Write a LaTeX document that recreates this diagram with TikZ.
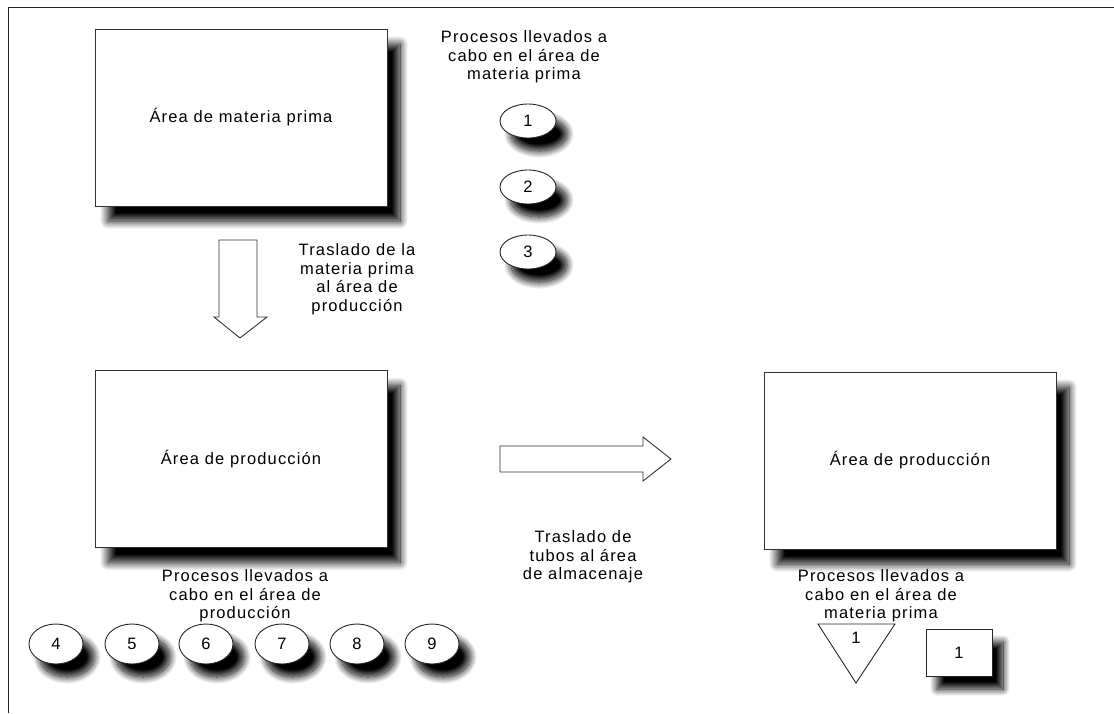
\documentclass[tikz,border=0pt]{standalone}
\usepackage{fontspec}
\setmainfont[LetterSpace=7]{Liberation Sans}
\usepackage{tikz}
\usetikzlibrary{shapes.geometric,shadows.blur}

\begin{document}
\begin{tikzpicture}[x=1pt, y=-1pt,
    area/.style={rectangle, draw=black!80, line width=0.9pt, fill=white, minimum width=292pt, minimum height=177pt, inner sep=0pt, font=\fontsize{16.5}{18.5}\selectfont,
        blur shadow={shadow xshift=13pt, shadow yshift=-15pt, shadow blur radius=8pt, shadow blur steps=20, shadow opacity=100}},
    proc/.style={ellipse, draw=black!85, line width=0.9pt, fill=white, minimum width=56pt, minimum height=34pt, inner sep=0pt, font=\fontsize{16.5}{18.5}\selectfont,
        blur shadow={shadow xshift=11pt, shadow yshift=-13pt, shadow blur radius=7pt, shadow blur steps=20, shadow opacity=100}},
    note/.style={align=center, inner sep=0pt, font=\fontsize{16.5}{18.5}\selectfont},
    flecha/.style={draw=black!80, line width=0.9pt, fill=white}]

    \useasboundingbox (0,0) rectangle (1114,713);

    % Frame
    \draw[line width=1pt, black!85] (1114,7) -- (8,7) -- (8,713);

    % Areas
    \node[area] (MP) at (241,117.5) {Área de materia prima};
    \node[area] (PR) at (241,459) {Área de producción};
    \node[area] (AL) at (910,460.5) {Área de producción};

    % Processes in raw material area
    \node[note] (T1) at (524,57) {Procesos llevados a\\cabo en el área de\\materia prima};
    \node[proc] (C1) at (528,121) {1};
    \node[proc] (C2) at (528,187) {2};
    \node[proc] (C3) at (528,252) {3};

    % Move to production
    \draw[flecha] (219,240) -- (257,240) -- (257,317) -- (267,317) -- (240,338) -- (214,317) -- (219,317) -- cycle;
    \node[note] (T2) at (357,279) {Traslado de la\\materia prima\\al área de\\producción};

    % Move to storage
    \draw[flecha] (500,446) -- (643,446) -- (643,437) -- (671,459) -- (643,481) -- (643,472) -- (500,472) -- cycle;
    \node[note] (T3) at (583,557) {Traslado de\\tubos al área\\de almacenaje};

    % Processes in production area
    \node[note] (T4) at (245,596) {Procesos llevados a\\cabo en el área de\\producción};
    \foreach \n/\x in {4/56, 5/132, 6/206, 7/282, 8/357, 9/432}
        \node[proc, minimum width=54pt, minimum height=40pt] (C\n) at (\x,644) {\n};

    % Processes in storage area
    \node[note] (T5) at (881,596) {Procesos llevados a\\cabo en el área de\\materia prima};
    \draw[black!85, line width=0.9pt] (818,624) -- (895,624) -- (856,683) -- cycle;
    \node[note] (TR) at (856,638) {1};
    \node[rectangle, draw=black!85, line width=0.9pt, fill=white, minimum width=66pt, minimum height=47pt, inner sep=0pt, font=\fontsize{16.5}{18.5}\selectfont,
        blur shadow={shadow xshift=11pt, shadow yshift=-13pt, shadow blur radius=7pt, shadow blur steps=20, shadow opacity=100}] (SQ) at (959,652.5) {1};
\end{tikzpicture}
\end{document}
